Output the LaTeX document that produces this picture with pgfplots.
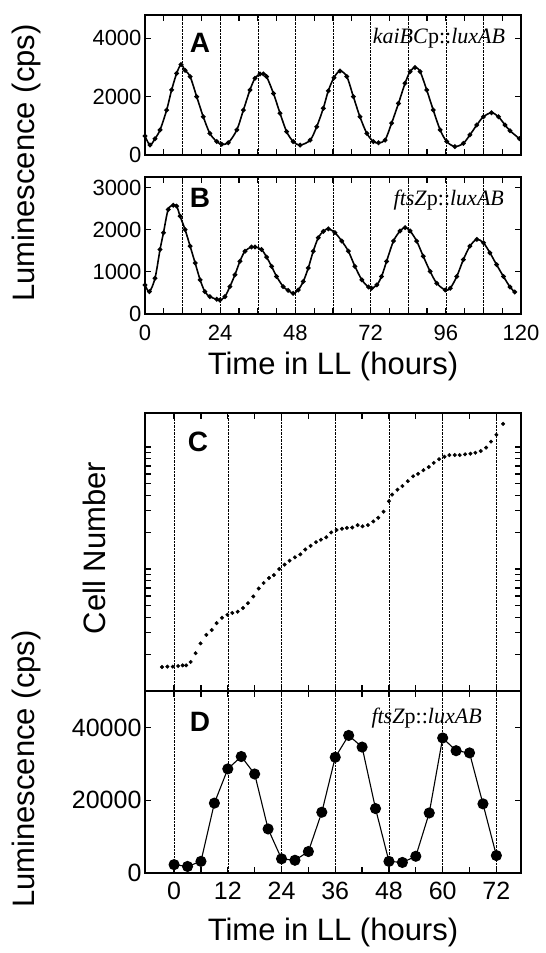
\documentclass[border=0pt]{standalone}
\usepackage{pgfplots}
\pgfplotsset{compat=1.18}
\usepackage{fontspec}
\setmainfont{Liberation Sans}
\newfontfamily\tms{Liberation Serif}
\begin{document}
\begin{tikzpicture}
\useasboundingbox (0pt,0pt) rectangle (546pt,-953pt);
\pgfplotsset{
  every axis/.append style={
    scale only axis, anchor=south west,
    axis line style={line width=1.4pt},
    tick align=inside, xtick pos=both, ytick pos=both,
    yticklabel pos=left, xticklabel pos=bottom,
    major tick length=6pt, minor tick length=6pt,
    tick style={line width=1.2pt, black},
    /pgf/number format/assume math mode=true,
    /pgf/number format/1000 sep={},
    scaled y ticks=false,
    xmajorgrids, major grid style={densely dotted, line width=0.6pt, black},
    tick label style={font=\fontsize{22}{26}\selectfont},
  }
}
% ---------------- A ----------------
\begin{axis}[at={(145pt,-155pt)}, width=376pt, height=140pt,
  xmin=0, xmax=120, ymin=0, ymax=4800,
  xtick={0,12,...,120}, xticklabels={}, minor xtick={6,18,...,114},
  ytick={0,2000,4000}]
\addplot[black, line width=1.6pt, smooth, tension=0.5, mark=*, mark size=1.5pt] coordinates {
(0,650) (1.6,340) (3.2,560) (4.8,860) (6.9,1540) (8.5,2230) (10.1,2800) (11.5,3100)
(12.8,2900) (14.4,2690) (16.5,2000) (18.6,1310) (20.7,740) (22.9,460) (24.5,370)
(26.6,420) (29.3,860) (31.4,1540) (33.5,2230) (35.1,2630) (36.7,2780) (37.8,2780)
(38.8,2690) (41,2110) (43.1,1430) (45.2,800) (47.3,460) (49.5,340) (52.7,510)
(54.8,970) (56.9,1600) (58.5,2200) (60.3,2650) (62.2,2880) (64.4,2690) (66.5,2000)
(68.6,1310) (70.8,740) (72.9,460) (74.5,420) (76.6,510) (78.7,1090) (80.9,1770)
(83,2460) (84.6,2860) (86.2,3000) (87.8,2860) (89.9,2230) (92,1540) (94.2,860)
(96.3,460) (98.9,290) (101.6,400) (103.7,690) (105.9,1030) (108,1310) (110.6,1450)
(112.8,1310) (114.9,1030) (116.5,830) (119.5,560)};
\node[font=\fontsize{28}{30}\selectfont\bfseries] at (rel axis cs:0.146,0.80) {A};
\node[anchor=east, font=\tms\fontsize{22}{24}\selectfont, inner sep=0pt] at (rel axis cs:0.958,0.834) {\textit{kaiBC}p::\textit{luxAB}};
\end{axis}
% ---------------- B ----------------
\begin{axis}[at={(145pt,-314pt)}, width=376pt, height=137pt,
  xmin=0, xmax=120, ymin=0, ymax=3250,
  xtick={0,12,...,120}, xticklabels={0,,24,,48,,72,,96,,120}, minor xtick={6,18,...,114},
  xticklabel style={yshift=-8pt},
  ytick={0,1000,2000,3000}]
\addplot[black, line width=1.6pt, smooth, tension=0.5, mark=*, mark size=1.5pt] coordinates {
(0,690) (1.4,530) (3.2,850) (4.8,1530) (5.9,1930) (7.4,2480) (9.0,2580) (10.1,2560)
(11.2,2320) (12.8,2000) (14.4,1610) (16,1210) (17.6,810) (19.1,530) (20.7,410)
(22.9,350) (23.9,330) (25.5,410) (27.1,650) (28.7,930) (30.3,1250) (31.9,1490)
(34,1590) (35.1,1590) (37.2,1530) (38.8,1350) (40.4,1130) (42,890) (44.1,650)
(45.7,560) (47.3,490) (48.9,570) (50.5,770) (52.1,1090) (53.7,1490) (55.3,1810)
(56.9,1960) (58.5,2020) (60.6,1930) (62.8,1730) (64.9,1490) (67,1130) (69.2,810)
(71.3,640) (72.3,610) (74,690) (75.5,890) (77.1,1250) (79.3,1730) (81.4,1970)
(83,2050) (84.6,1970) (86.7,1730) (88.8,1370) (91,1010) (93.1,730) (95.8,570)
(97.4,610) (99.5,890) (101.6,1290) (103.7,1610) (105.9,1770) (108,1690) (110.1,1450)
(112.2,1170) (114.4,890) (116.5,640) (118,520)};
\node[font=\fontsize{28}{30}\selectfont\bfseries] at (rel axis cs:0.146,0.845) {B};
\node[anchor=east, font=\tms\fontsize{22}{24}\selectfont, inner sep=0pt] at (rel axis cs:0.955,0.832) {\textit{ftsZ}p::\textit{luxAB}};
\end{axis}
% ---------------- C ----------------
\begin{axis}[at={(145pt,-691pt)}, width=376pt, height=278pt,
  xmin=-6.5, xmax=77.5, ymode=log, ymin=1e5, ymax=1.9e7,
  xtick={0,12,...,72}, xticklabels={}, minor xtick={6,18,...,66},
  ytick={1e5,1e6,1e7}, yticklabels={},
  minor ytick={2e5,3e5,4e5,5e5,6e5,7e5,8e5,9e5,2e6,3e6,4e6,5e6,6e6,7e6,8e6,9e6}]
\addplot[black, only marks, mark=*, mark size=1.8pt] coordinates {
(-2.7,1.574e5) (-1.5,1.585e5) (-0.3,1.585e5) (0.9,1.603e5) (1.9,1.622e5) (2.7,1.622e5)
(3.7,1.73e5) (4.8,2.04e5) (5.9,2.455e5) (7.2,2.884e5) (8.4,3.162e5) (9.5,3.597e5)
(10.7,3.981e5) (11.9,4.217e5) (13.0,4.365e5) (14.2,4.467e5) (15.4,4.786e5) (16.5,5.248e5)
(17.7,5.957e5) (18.9,6.918e5) (20.0,7.674e5) (21.2,8.433e5) (22.3,8.913e5) (23.5,1.0e6)
(24.7,1.086e6) (25.8,1.169e6) (27.0,1.247e6) (28.2,1.318e6) (29.3,1.445e6) (30.5,1.549e6)
(31.7,1.660e6) (32.8,1.738e6) (34.0,1.820e6) (35.1,1.995e6) (36.3,2.089e6) (37.5,2.138e6)
(38.6,2.173e6) (39.8,2.188e6) (41.0,2.291e6) (42.1,2.239e6) (43.3,2.291e6) (44.5,2.455e6)
(45.6,2.630e6) (46.8,2.951e6) (48.0,3.597e6) (48.7,4.074e6) (49.9,4.467e6) (51.0,4.786e6)
(52.2,5.248e6) (53.4,5.754e6) (54.5,6.026e6) (55.7,6.457e6) (56.9,6.855e6) (58.0,7.413e6)
(59.2,7.943e6) (60.4,8.318e6) (61.5,8.590e6) (62.7,8.590e6) (63.8,8.590e6) (65.0,8.710e6)
(66.2,8.810e6) (67.3,8.974e6) (68.5,9.268e6) (69.7,9.886e6) (70.8,1.107e7) (72.0,1.259e7)
(73.5,1.549e7)};
\node[font=\fontsize{28}{30}\selectfont\bfseries] at (rel axis cs:0.141,0.897) {C};
\end{axis}
% ---------------- D ----------------
\begin{axis}[at={(145pt,-873pt)}, width=376pt, height=182pt,
  xmin=-6.5, xmax=77.5, ymin=0, ymax=50000,
  xtick={0,12,...,72}, minor xtick={6,18,...,66},
  ytick={0,20000,40000},
  tick label style={font=\fontsize{25}{28}\selectfont},
  xticklabel style={yshift=-5pt}]
\addplot[black, line width=1.1pt, mark=*, mark size=5pt] coordinates {
(0,2300) (3,1800) (6,3200) (9,19200) (12,28600) (15,32000) (18,27200) (21,12100)
(24,3900) (27,3500) (30,5900) (33,16700) (36,31800) (39,37800) (42,34600) (45,17700)
(48,3200) (51,2900) (54,4600) (57,16500) (60,37100) (63,33600) (66,33000) (69,19000)
(72,4800)};
\node[font=\fontsize{28}{30}\selectfont\bfseries] at (rel axis cs:0.146,0.83) {D};
\node[anchor=east, font=\tms\fontsize{22}{24}\selectfont, inner sep=0pt] at (rel axis cs:0.896,0.85) {\textit{ftsZ}p::\textit{luxAB}};
\end{axis}
% ---------------- labels ----------------
\node[rotate=90, font=\fontsize{31}{34}\selectfont] at (26pt,-163pt) {Luminescence (cps)};
\node[rotate=90, font=\fontsize{31}{34}\selectfont] at (94pt,-548pt) {Cell Number};
\node[rotate=90, font=\fontsize{31}{34}\selectfont] at (26pt,-769pt) {Luminescence (cps)};
\node[font=\fontsize{31}{34}\selectfont] at (333pt,-366pt) {Time in LL (hours)};
\node[font=\fontsize{31}{34}\selectfont] at (333pt,-932pt) {Time in LL (hours)};
\end{tikzpicture}
\end{document}
